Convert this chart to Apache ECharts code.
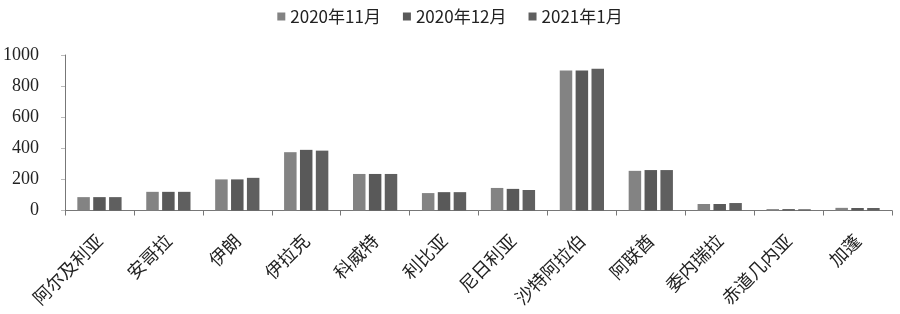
<!DOCTYPE html>
<html><head><meta charset="utf-8">
<script src="https://cdn.jsdelivr.net/npm/echarts@6/dist/echarts.min.js"></script>
<style>html,body{margin:0;padding:0;background:#fff}#c{width:900px;height:314px}</style>
</head><body><div id="c"></div>
<script>
const categories = ['阿尔及利亚','安哥拉','伊朗','伊拉克','科威特','利比亚','尼日利亚','沙特阿拉伯','阿联酋','委内瑞拉','赤道几内亚','加蓬'];
const seriesNames = ['2020年11月','2020年12月','2021年1月'];
const nov2020 = [86, 120, 200, 375, 235, 112, 145, 900, 255, 42, 9, 17];
const dec2020 = [86, 120, 200, 390, 235, 118, 139, 900, 260, 42, 9, 16];
const jan2021 = [86, 120, 210, 385, 235, 118, 132, 912, 260, 48, 8, 16];
const yTicks = [0, 200, 400, 600, 800, 1000];
const colors = ['#838383', '#595959', '#5f5f5f'];

const chart = echarts.init(document.getElementById('c'));
const mk = (name, data, color) => ({
  name, type: 'bar', data, barWidth: 12.5, barGap: '27%',
  itemStyle: { color }
});
chart.setOption({
  animation: false,
  legend: {
    top: 3, left: 'center', itemWidth: 8, itemHeight: 8, itemGap: 22,
    icon: 'rect',
    textStyle: { fontFamily: 'Noto Sans CJK SC', fontSize: 17, color: '#222' },
    data: seriesNames
  },
  grid: { left: 65, right: 8, top: 55, bottom: 103.5 },
  xAxis: {
    type: 'category', data: categories,
    axisLine: { lineStyle: { color: '#777' } },
    axisTick: { show: true, length: 5, lineStyle: { color: '#777' } },
    axisLabel: { rotate: 45, margin: 27, interval: 0, fontFamily: 'Noto Sans CJK SC', fontSize: 18, color: '#222' }
  },
  yAxis: {
    type: 'value', min: yTicks[0], max: yTicks[yTicks.length - 1], interval: 200,
    splitLine: { show: false },
    axisLine: { show: true, lineStyle: { color: '#777' } },
    axisTick: { show: true, length: 4, lineStyle: { color: '#bbb' } },
    axisLabel: { margin: 26, fontFamily: '"Liberation Serif", serif', fontSize: 18, color: '#222', formatter: v => String(v) }
  },
  series: [mk(seriesNames[0], nov2020, colors[0]), mk(seriesNames[1], dec2020, colors[1]), mk(seriesNames[2], jan2021, colors[2])]
});
</script></body></html>
